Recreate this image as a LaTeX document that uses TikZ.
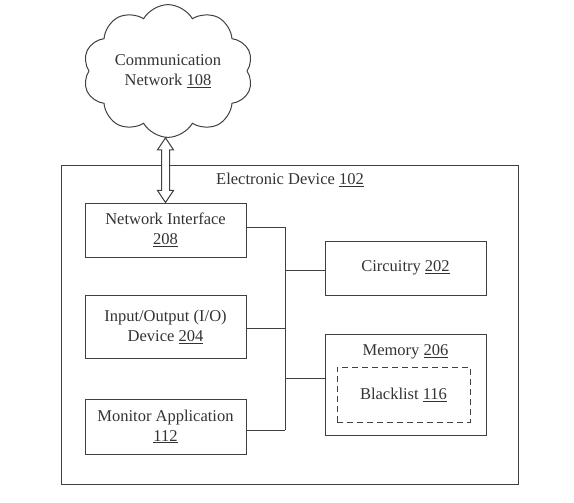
\documentclass[tikz,border=0pt]{standalone}
\usepackage{fontspec}
\setmainfont{Liberation Serif}
\usetikzlibrary{shapes.symbols,calc}
\begin{document}
\begin{tikzpicture}[x=1pt,y=-1pt,
  every node/.style={text=black!80, font=\fontsize{16.5}{20}\selectfont},
  box/.style={draw=black!75, line width=1pt, rectangle, minimum width=161pt, align=center, inner sep=0pt},
  dbox/.style={draw=black!75, line width=1pt, dashed, dash pattern=on 6pt off 4pt, rectangle, align=center, inner sep=0pt},
  link/.style={draw=black!75, line width=1pt},
  net/.style={draw=black!75, line width=1pt, cloud, cloud puffs=10, cloud puff arc=120, aspect=1.35, minimum width=170pt, minimum height=130pt, inner sep=0pt, align=center},
  hollow/.style={draw=black!75, line width=1pt, fill=white}]
\useasboundingbox (0,0) rectangle (574,503);
% cloud
\node[net] (cloud) at (168,71) {Communication\\Network \underline{108}};
% outer device box
\node[box, minimum width=457pt, minimum height=318pt] (dev) at (289.5,325) {};
\node (title) at (290,180) {Electronic Device \underline{102}};
% component boxes
\node[box, minimum height=54pt] (ni) at (165.5,230) {Network Interface\\\underline{208}};
\node[box, minimum height=63pt] (io) at (165.5,326.5) {Input/Output (I/O)\\Device \underline{204}};
\node[box, minimum height=55pt] (mon) at (165.5,426.5) {Monitor Application\\\underline{112}};
\node[box, minimum height=54pt] (circ) at (405.5,268) {Circuitry \underline{202}};
\node[box, minimum height=101pt] (mem) at (405.5,384.5) {};
\node (memlbl) at (405.5,352) {Memory \underline{206}};
\node[dbox, minimum width=133pt, minimum height=55pt] (bl) at (403.5,394.5) {Blacklist \underline{116}};
% bus
\coordinate (b1) at (285,227);
\coordinate (b2) at (285,270);
\coordinate (b3) at (285,328);
\coordinate (b4) at (285,378);
\coordinate (b5) at (285,430);
\draw[link] (b1) -- (b5);
\draw[link] (ni.east |- b1) -- (b1);
\draw[link] (b2) -- (circ.west |- b2);
\draw[link] (io.east |- b3) -- (b3);
\draw[link] (b4) -- (mem.west |- b4);
\draw[link] (mon.east |- b5) -- (b5);
% hollow double arrow between cloud and network interface
\draw[hollow] let \p1=(cloud.south), \p2=(ni.north) in
  (\x2,\y1) -- (\x2+8pt,\y1-12pt) -- (\x2+4pt,\y1-12pt) -- (\x2+4pt,\y2+12pt)
  -- (\x2+8pt,\y2+12pt) -- (\x2,\y2) -- (\x2-8pt,\y2+12pt) -- (\x2-4pt,\y2+12pt)
  -- (\x2-4pt,\y1-12pt) -- (\x2-8pt,\y1-12pt) -- cycle;
\end{tikzpicture}
\end{document}
